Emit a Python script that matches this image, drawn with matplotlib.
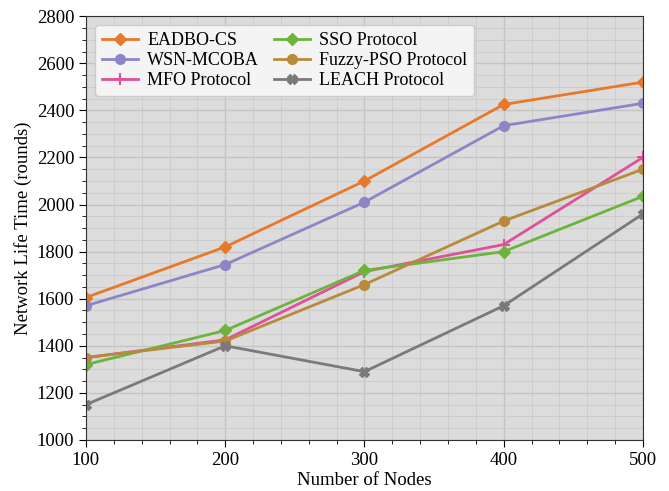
import numpy as np
import matplotlib.pyplot as plt
from matplotlib.ticker import MultipleLocator

plt.rcParams['font.family'] = ['Liberation Serif', 'DejaVu Serif']

nodes = [100, 200, 300, 400, 500]
eadbo = [1605, 1820, 2100, 2425, 2520]
wsn_mcoba = [1570, 1745, 2010, 2335, 2430]
mfo = [1350, 1425, 1715, 1830, 2200]
sso = [1320, 1465, 1720, 1800, 2035]
fuzzy_pso = [1350, 1420, 1660, 1930, 2150]
leach = [1150, 1400, 1290, 1570, 1960]

fig = plt.figure(figsize=(6.69, 4.91), dpi=100)
ax = fig.add_axes([0.1285, 0.104, 0.8325, 0.863])
ax.set_facecolor('#dcdcdc')

ax.plot(nodes, eadbo, color='#e8782a', marker='D', ms=6, lw=2, label='EADBO-CS')
ax.plot(nodes, wsn_mcoba, color='#8c86c6', marker='o', ms=7, lw=2, label='WSN-MCOBA')
ax.plot(nodes, mfo, color='#e0509a', marker='+', ms=8, mew=1.5, lw=2, label='MFO Protocol')
ax.plot(nodes, sso, color='#6cb43c', marker='D', ms=6, lw=2, label='SSO Protocol')
ax.plot(nodes, fuzzy_pso, color='#b98a3c', marker='o', ms=7, lw=2, label='Fuzzy-PSO Protocol')
ax.plot(nodes, leach, color='#7a7a7a', marker='X', ms=6.5, lw=2, label='LEACH Protocol')

ax.set_xlim(100, 500)
ax.set_ylim(1000, 2800)
ax.xaxis.set_major_locator(MultipleLocator(100))
ax.xaxis.set_minor_locator(MultipleLocator(20))
ax.yaxis.set_major_locator(MultipleLocator(200))
ax.yaxis.set_minor_locator(MultipleLocator(50))
ax.grid(which='major', color='#c4c4c4', lw=1.0)
ax.grid(which='minor', color='#cdcdcd', lw=0.7)
ax.set_axisbelow(True)
ax.tick_params(which='major', labelsize=13.5, length=5, direction='out')
ax.tick_params(which='minor', length=3, direction='out')
for s in ax.spines.values():
    s.set_color('#333333')

ax.set_xlabel('Number of Nodes', fontsize=13.5, labelpad=2)
ax.set_ylabel('Network Life Time (rounds)', fontsize=13.5, labelpad=3)

ax.legend(loc='upper left', ncol=2, fontsize=13, handlelength=2.0,
          columnspacing=0.8, labelspacing=0.15, borderpad=0.4, handletextpad=0.5,
          facecolor='#f4f4f4', framealpha=1, edgecolor='#cccccc')

fig.savefig('out.png', dpi=100)
